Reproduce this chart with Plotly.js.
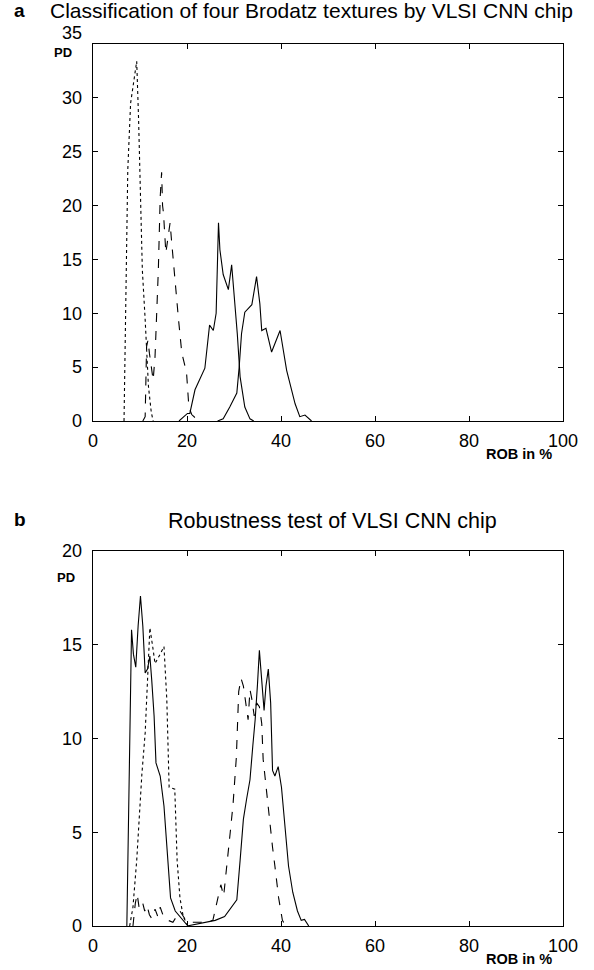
<!DOCTYPE html>
<html>
<head>
<meta charset="utf-8">
<script src="https://cdn.plot.ly/plotly-3.0.1.min.js"></script>
<style>html,body{margin:0;padding:0;background:#fff;}#chart{width:594px;height:970px;}</style>
</head>
<body>
<div id="chart"></div>
<script>
// ---- Panel a: Classification of four Brodatz textures ----
const aDotX = [6.6, 6.8, 7.0, 7.4, 8.0, 8.6, 9.3, 9.7, 10.0, 10.5, 11.1, 11.8, 12.4, 12.8];
const aDotY = [0, 6.3, 15.6, 23.3, 29.5, 31.5, 33.4, 28, 21.8, 14, 9.4, 3.2, 0.8, 0];

const aDashX = [10.6, 11.1, 11.4, 11.7, 12.0, 12.5, 12.8, 13.2, 13.5, 13.9, 14.3, 14.6, 14.8, 15.0, 15.5, 16.0, 16.4, 16.7, 17.4, 18.2, 18.9, 19.9, 20.4, 21.0, 22.0, 23.0];
const aDashY = [0, 0.4, 6.9, 7.5, 6.3, 4.7, 3.8, 6.0, 9.4, 14, 20.8, 23.1, 20, 19.3, 15.6, 17.4, 18.4, 16.8, 13.1, 9.4, 6.3, 4.5, 1.3, 0.6, 0.2, 0];

const aSolid1X = [18.3, 19.3, 20.1, 20.6, 21.7, 23.8, 24.8, 25.6, 26.2, 26.7, 27.0, 27.7, 28.8, 29.5, 30.2, 30.7, 31.3, 32.3, 33.4, 34.2];
const aSolid1Y = [0, 0.4, 0.7, 0.7, 2.9, 4.9, 8.9, 8.4, 10, 18.4, 15.9, 13.6, 12.2, 14.5, 11.2, 8.1, 4.1, 1.3, 0.2, 0];

const aSolid2X = [26.5, 27.7, 29.1, 30.6, 31.1, 31.6, 32.3, 33.8, 34.8, 35.5, 35.9, 36.8, 38.0, 39.8, 41.2, 43.0, 44.0, 45.1, 46.5];
const aSolid2Y = [0, 0.2, 1.3, 2.6, 5.0, 8.1, 10.1, 10.8, 13.4, 10.9, 8.4, 8.6, 6.4, 8.4, 4.7, 1.6, 0.4, 0.55, 0];

// ---- Panel b: Robustness test ----
const bSolidLX = [7.2, 7.4, 7.9, 8.2, 8.6, 9.1, 9.6, 10.1, 10.6, 11.1, 11.6, 12.1, 12.5, 13.0, 13.4, 14.3, 15.1, 15.8, 16.5, 17.5, 18.5, 19.5, 20.2];
const bSolidLY = [0, 3.5, 11, 15.8, 14.5, 13.8, 16.0, 17.6, 16.0, 13.5, 13.7, 14.4, 13.1, 11.2, 8.7, 8.0, 6.4, 3.9, 1.5, 0.8, 0.5, 0.2, 0];

const bDotX = [7.8, 8.5, 9.3, 9.9, 10.4, 11.1, 11.6, 12.1, 12.7, 13.2, 14.3, 15.1, 15.7, 16.2, 17.4, 17.9, 18.5, 19.2, 20.2];
const bDotY = [0, 1, 3.5, 6.2, 8.1, 10.3, 13, 15.9, 14.9, 14.0, 14.5, 14.9, 12.1, 7.4, 7.3, 3.5, 1.5, 0.5, 0];

const bDashX = [8.5, 9.0, 9.4, 9.8, 10.5, 11.0, 11.5, 12.0, 12.5, 13.2, 13.8, 14.3, 15.0, 16.0, 17.0, 18.5, 19.5, 20.5, 22, 24, 25.5, 26.5, 27.2, 27.8, 28.5, 29.2, 29.8, 30.5, 31.0, 31.5, 32.0, 32.5, 33.0, 33.4, 33.8, 34.3, 34.8, 35.4, 35.9, 36.2, 36.8, 37.6, 38.2, 38.7, 39.5, 40.3, 41.0];
const bDashY = [0, 1.2, 1.7, 1.0, 1.3, 0.8, 1.1, 0.6, 0.4, 0.9, 0.5, 1.0, 0.5, 0.3, 0.2, 0.8, 0.4, 0.2, 0.2, 0.2, 0.3, 1.5, 2.2, 1.6, 3.5, 5.0, 6.5, 9, 12.5, 13.2, 12.8, 12, 11, 12.6, 12.1, 11.2, 11.9, 11.7, 10.8, 8.9, 7.4, 5.7, 4.2, 3.2, 1.5, 0.3, 0];

const bSolidRX = [20.0, 22, 24, 26, 28, 29.5, 30.6, 31.3, 32.0, 32.7, 33.4, 34.0, 34.5, 35.0, 35.4, 35.9, 36.4, 36.8, 37.3, 37.8, 38.2, 38.7, 39.4, 40.1, 40.8, 41.6, 42.5, 43.5, 44.3, 45.0, 45.9];
const bSolidRY = [0, 0.1, 0.2, 0.3, 0.5, 1.0, 1.4, 3.5, 5.7, 6.8, 7.8, 9.6, 11.0, 12.9, 14.7, 13.1, 11.5, 12.8, 13.7, 11.9, 8.3, 8.0, 8.5, 7.4, 5.3, 3.2, 1.8, 0.8, 0.3, 0.35, 0];

const xTicks = [0, 20, 40, 60, 80, 100];
const aYTicks = [0, 5, 10, 15, 20, 25, 30, 35];
const aYText = ['0', '5', '10', '15', '20', '25', '30', '35<br> '];
const bYTicks = [0, 5, 10, 15, 20];

const titleA = "Classification of four Brodatz textures by VLSI CNN chip";
const titleB = "Robustness test of VLSI CNN chip";

const W = 594, H = 970;
const px = (p) => p / W;
const py = (p) => 1 - p / H;
const FONT = 'Liberation Sans, Arial, sans-serif';

function line(x, y, dash, xa, ya) {
  return {x: x, y: y, type: 'scatter', mode: 'lines', xaxis: xa, yaxis: ya,
    line: {color: '#000', width: 1.1, dash: dash}, hoverinfo: 'skip', showlegend: false};
}

const data = [
  line(aDotX, aDotY, 'dot', 'x', 'y'),
  line(aDashX, aDashY, 'dash', 'x', 'y'),
  line(aSolid1X, aSolid1Y, 'solid', 'x', 'y'),
  line(aSolid2X, aSolid2Y, 'solid', 'x', 'y'),
  line(bSolidLX, bSolidLY, 'solid', 'x2', 'y2'),
  line(bDotX, bDotY, 'dot', 'x2', 'y2'),
  line(bDashX, bDashY, 'dash', 'x2', 'y2'),
  line(bSolidRX, bSolidRY, 'solid', 'x2', 'y2'),
];

const tickFont = {family: FONT, size: 18, color: '#000'};
function xax(anchor) {
  return {domain: [px(93), px(563)], anchor: anchor, range: [0, 100], tickvals: xTicks,
    ticktext: xTicks.map(String), ticks: 'inside', ticklen: 5, tickwidth: 1, tickcolor: '#000',
    showline: true, linecolor: '#000', linewidth: 1.3, mirror: 'ticks', showgrid: false,
    zeroline: false, tickfont: tickFont, ticklabelstandoff: 3, fixedrange: true};
}
function yax(anchor, dom, rng, tv, tt) {
  return {domain: dom, anchor: anchor, range: rng, tickvals: tv, ticktext: tt,
    ticks: 'inside', ticklen: 5, tickwidth: 1, tickcolor: '#000',
    showline: true, linecolor: '#000', linewidth: 1.3, mirror: 'ticks', showgrid: false,
    zeroline: false, tickfont: tickFont, ticklabelstandoff: 6, fixedrange: true};
}

const layout = {
  width: W, height: H,
  margin: {l: 0, r: 0, t: 0, b: 0},
  paper_bgcolor: '#fff', plot_bgcolor: '#fff',
  showlegend: false,
  xaxis: xax('y'),
  yaxis: yax('x', [py(421), py(44)], [0, 35], aYTicks, aYText),
  xaxis2: xax('y2'),
  yaxis2: yax('x2', [py(926), py(551)], [0, 20], bYTicks, bYTicks.map(String)),
  annotations: [
    {text: '<b>a</b>', x: px(12), y: py(11), xref: 'paper', yref: 'paper', xanchor: 'left', yanchor: 'middle', showarrow: false,
      font: {family: FONT, size: 19, color: '#000'}},
    {text: titleA, x: px(48), y: py(11), xref: 'paper', yref: 'paper', xanchor: 'left', yanchor: 'middle', showarrow: false,
      font: {family: FONT, size: 21, color: '#000'}},
    {text: '<b>b</b>', x: px(12), y: py(519), xref: 'paper', yref: 'paper', xanchor: 'left', yanchor: 'middle', showarrow: false,
      font: {family: FONT, size: 19, color: '#000'}},
    {text: titleB, x: px(332), y: py(521), xref: 'paper', yref: 'paper', xanchor: 'center', yanchor: 'middle', showarrow: false,
      font: {family: FONT, size: 21.5, color: '#000'}},
    {text: '<b>PD</b>', x: px(63), y: py(52), xref: 'paper', yref: 'paper', xanchor: 'center', yanchor: 'middle', showarrow: false,
      font: {family: FONT, size: 13, color: '#000'}},
    {text: '<b>PD</b>', x: px(66), y: py(577), xref: 'paper', yref: 'paper', xanchor: 'center', yanchor: 'middle', showarrow: false,
      font: {family: FONT, size: 13, color: '#000'}},
    {text: '<b>ROB in %</b>', x: px(519), y: py(454), xref: 'paper', yref: 'paper', xanchor: 'center', yanchor: 'middle', showarrow: false,
      font: {family: FONT, size: 14.5, color: '#000'}},
    {text: '<b>ROB in %</b>', x: px(519), y: py(959), xref: 'paper', yref: 'paper', xanchor: 'center', yanchor: 'middle', showarrow: false,
      font: {family: FONT, size: 14.5, color: '#000'}},
  ]
};

Plotly.newPlot('chart', data, layout, {displayModeBar: false, staticPlot: true});
</script>
</body>
</html>
